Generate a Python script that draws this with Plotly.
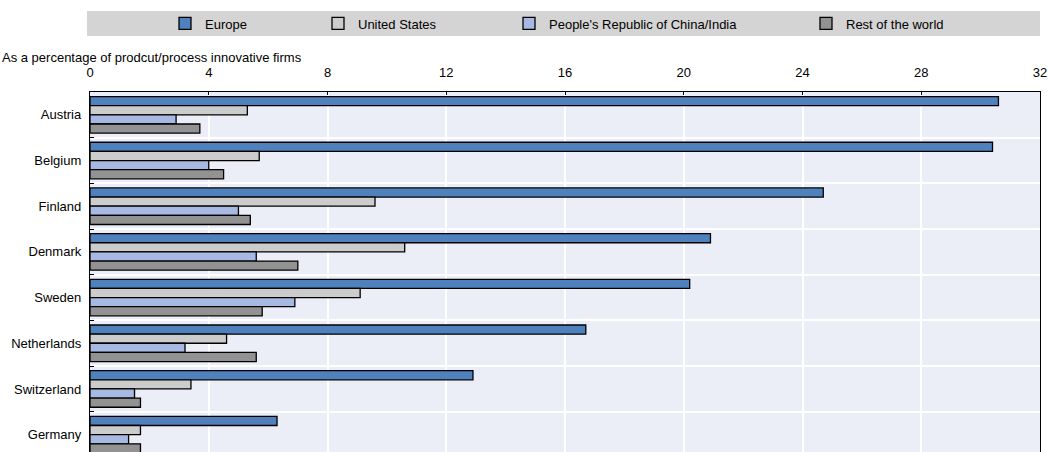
import plotly.graph_objects as go

countries = ["Austria", "Belgium", "Finland", "Denmark", "Sweden", "Netherlands", "Switzerland", "Germany"]
europe = [30.6, 30.4, 24.7, 20.9, 20.2, 16.7, 12.9, 6.3]
united_states = [5.3, 5.7, 9.6, 10.6, 9.1, 4.6, 3.4, 1.7]
china_india = [2.9, 4.0, 5.0, 5.6, 6.9, 3.2, 1.5, 1.3]
rest_world = [3.7, 4.5, 5.4, 7.0, 5.8, 5.6, 1.7, 1.7]

series_names = ["Europe", "United States", "People's Republic of China/India", "Rest of the world"]
series_values = [europe, united_states, china_india, rest_world]
colors = ["#4F81BD", "#CCCCCC", "#A7B8E3", "#929292"]
legend_ids = ["legend", "legend2", "legend3", "legend4"]
legend_text_x = [201, 354, 545, 842]

FONT = "Liberation Sans, Arial, sans-serif"
FS = 13
W, H = 1048, 452
L, R, T, B = 90, 8, 92, 0
PW, PH = W - L - R, H - T - B


def px_x(px):
    return (px - L) / PW


def px_y(py):
    return 1 + (T - py) / PH


fig = go.Figure()
for name, vals, col, lg in zip(series_names, series_values, colors, legend_ids):
    fig.add_trace(go.Bar(
        y=countries, x=vals, name=name, orientation="h",
        marker=dict(color=col, line=dict(color="#000000", width=1.3)),
        legend=lg,
    ))

layout_legends = {}
for lg, tx in zip(legend_ids, legend_text_x):
    layout_legends[lg] = dict(
        xref="container", yref="container",
        x=(tx - 36) / W, xanchor="left",
        y=1 - 23.5 / H, yanchor="middle",
        bgcolor="rgba(0,0,0,0)", borderwidth=0,
        font=dict(family=FONT, size=FS, color="#000000"),
        itemwidth=30,
    )

fig.update_layout(
    width=W, height=H,
    margin=dict(l=L, r=R, t=T, b=B, autoexpand=False),
    paper_bgcolor="#FFFFFF",
    plot_bgcolor="#EBEEF6",
    barmode="group",
    bargap=0.2,
    bargroupgap=0,
    font=dict(family=FONT, size=FS, color="#000000"),
    showlegend=True,
    **layout_legends,
)

fig.add_shape(type="rect", xref="paper", yref="paper",
              x0=px_x(87), x1=1.0, y0=px_y(36), y1=px_y(11),
              fillcolor="#D4D4D4", line=dict(width=0), layer="below")

fig.update_xaxes(
    side="top", range=[0, 32], tickvals=[0, 4, 8, 12, 16, 20, 24, 28, 32],
    showgrid=True, gridcolor="#FFFFFF", gridwidth=1.5,
    showline=True, linecolor="#000000", linewidth=1.3,
    ticks="inside", ticklen=3, tickcolor="#000000", tickwidth=1,
    tickfont=dict(family=FONT, size=FS), zeroline=False,
    ticklabelstandoff=9, ticklabeloverflow="allow",
)
fig.update_yaxes(
    type="category", categoryorder="array", categoryarray=countries,
    range=[7.38, -0.5],
    tickson="boundaries",
    showgrid=True, gridcolor="#FFFFFF", gridwidth=1.5,
    showline=True, mirror=True, linecolor="#000000", linewidth=1.3,
    ticks="inside", ticklen=4, tickcolor="#000000", tickwidth=1,
    tickfont=dict(family=FONT, size=FS), ticklabelstandoff=5,
)

fig.add_annotation(
    text="As a percentage of prodcut/process innovative firms",
    xref="paper", yref="paper", x=px_x(0), y=px_y(58),
    xanchor="left", yanchor="middle", showarrow=False,
    font=dict(family=FONT, size=FS, color="#000000"),
)

fig.write_html(
    "out.html",
    config={"displayModeBar": False},
    post_script="document.body.style.margin='0';document.body.style.overflow='hidden';",
)
